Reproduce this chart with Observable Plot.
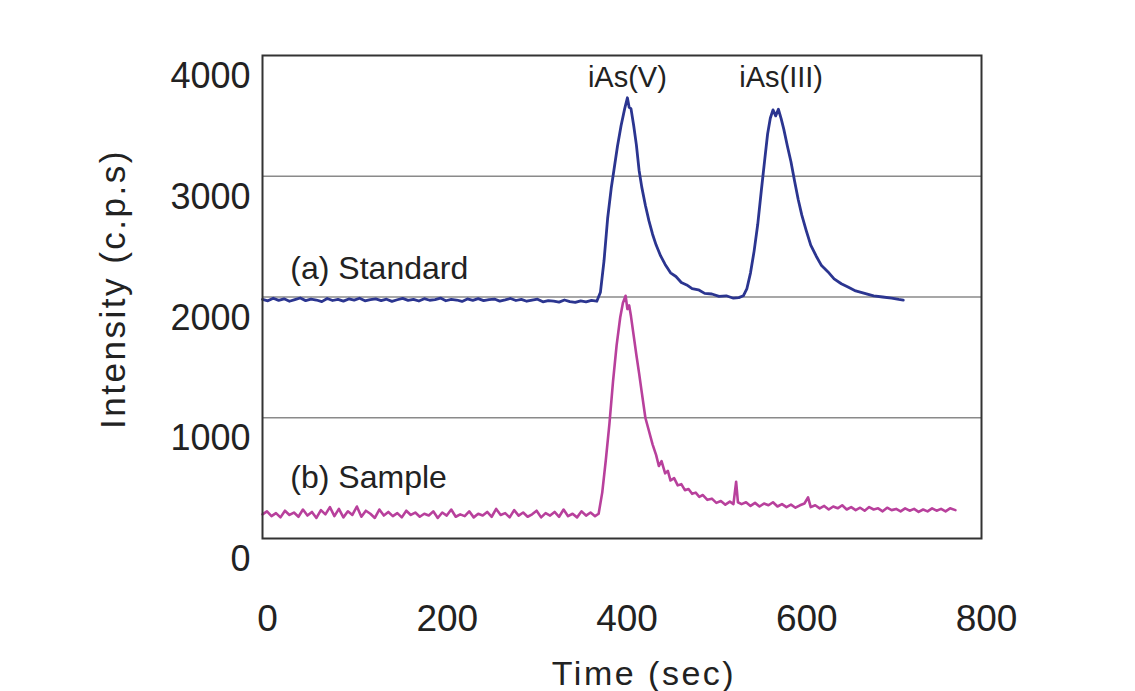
<!DOCTYPE html>
<html>
<head>
<meta charset="utf-8">
<script src="https://cdn.jsdelivr.net/npm/d3@7"></script>
<script src="https://cdn.jsdelivr.net/npm/@observablehq/plot@0.6"></script>
<style>
  html, body { margin: 0; padding: 0; background: #ffffff; }
  #chart { width: 1135px; height: 691px; }
</style>
</head>
<body>
<div id="chart"></div>
<script>
// ---- Data (time in sec, intensity in c.p.s) ----
const standardPoints = [
  [0,1980],[6,1968],[12,1990],[18,1972],[24,1985],[30,1965],[36,1978],[42,1992],[48,1970],[54,1983],
  [60,1975],[66,1962],[72,1988],[78,1971],[84,1980],[90,1966],[96,1984],[102,1974],[108,1990],[114,1968],
  [120,1979],[126,1985],[132,1970],[138,1982],[144,1964],[150,1977],[156,1989],[162,1972],[168,1981],[174,1967],
  [180,1986],[186,1973],[192,1978],[198,1991],[204,1969],[210,1980],[216,1975],[222,1963],[228,1984],[234,1972],
  [240,1987],[246,1970],[252,1979],[258,1983],[264,1966],[270,1976],[276,1988],[282,1971],[288,1980],[294,1965],
  [300,1974],[306,1982],[312,1960],[318,1970],[324,1966],[330,1958],[336,1975],[342,1962],[348,1955],[354,1968],
  [360,1960],[366,1972],[372,1965],
  [376,2040],[380,2300],[384,2650],[388,2900],[391,3050],[395,3250],[399,3420],[403,3560],[406,3650],[408,3570],
  [410,3560],[413,3420],[416,3260],[419,3050],[422,2910],[426,2760],[430,2630],[434,2520],[438,2430],[443,2340],
  [448,2270],[454,2200],[460,2170],[466,2120],[472,2100],[478,2070],[485,2060],[492,2030],[500,2025],[508,2005],
  [516,2010],[524,1990],[530,1995],[535,2010],[539,2070],[543,2200],[547,2380],[551,2600],[555,2880],[559,3150],
  [562,3350],[565,3480],[568,3550],[571,3500],[574,3555],[577,3480],[580,3390],[584,3250],[588,3120],[592,2960],
  [596,2810],[600,2680],[605,2550],[610,2430],[616,2340],[622,2260],[629,2210],[636,2150],[644,2110],[652,2080],
  [660,2050],[670,2030],[680,2010],[690,2000],[700,1990],[708,1980],[713,1975]
];

const samplePoints = [
  [0,200],[5,225],[10,185],[15,210],[20,175],[25,230],[30,195],[35,215],[40,180],[45,240],
  [50,190],[55,220],[60,170],[65,235],[70,200],[75,260],[80,185],[85,245],[90,175],[95,225],
  [100,195],[105,265],[110,180],[115,230],[120,205],[125,170],[130,240],[135,190],[140,220],[145,185],
  [150,210],[155,175],[160,230],[165,195],[170,215],[175,180],[180,205],[185,190],[190,225],[195,170],
  [200,215],[205,190],[210,240],[215,180],[220,200],[225,185],[230,225],[235,175],[240,205],[245,190],
  [250,220],[255,180],[260,245],[265,195],[270,210],[275,175],[280,235],[285,190],[290,215],[295,180],
  [300,200],[305,230],[310,175],[315,210],[320,190],[325,220],[330,180],[335,240],[340,185],[345,205],
  [350,175],[355,225],[360,190],[365,215],[370,185],[374,205],
  [378,380],[382,650],[386,950],[390,1300],[394,1600],[398,1830],[401,1950],[404,2010],[406,1900],[408,1930],
  [410,1840],[413,1680],[416,1520],[419,1370],[422,1210],[426,1000],[430,890],[434,780],[438,690],[441,600],
  [444,640],[448,540],[451,560],[454,480],[458,500],[462,440],[466,450],[470,400],[474,410],[478,370],
  [482,380],[486,345],[490,360],[495,320],[500,330],[505,295],[510,310],[515,280],[520,305],[524,285],
  [527,470],[529,300],[533,285],[538,300],[543,270],[548,295],[553,265],[558,290],[563,275],[568,300],
  [573,265],[578,285],[583,260],[588,280],[593,255],[598,275],[603,290],[607,340],[610,260],[615,275],
  [620,250],[625,270],[630,240],[635,265],[640,250],[645,275],[650,240],[655,260],[660,235],[665,255],
  [670,230],[675,260],[680,240],[685,250],[690,225],[695,255],[700,235],[705,245],[710,225],[715,250],
  [720,230],[725,245],[730,220],[735,240],[740,225],[745,250],[750,230],[755,245],[760,225],[765,250],
  [771,235]
];

const xTicks = [0, 200, 400, 600, 800];
const yTicks = [0, 1000, 2000, 3000, 4000];
const gridValues = [1000, 2000, 3000];

// Peak labels (centered) and trace labels (left-aligned), positioned in data units
const peakLabels = ["iAs(V)", "iAs(III)"];
const peakLabelTimes = [406, 577];
const peakLabelValues = [3815, 3815];

const traceLabels = ["(a) Standard", "(b) Sample"];
const traceLabelTimes = [31, 31];
const traceLabelValues = [2235, 505];

const xTitle = "Time (sec)";
const yTitle = "Intensity (c.p.s)";

// ---- Build tables ----
const standard = standardPoints.map(([t, v]) => ({t, v}));
const sample = samplePoints.map(([t, v]) => ({t, v}));
const peaks = peakLabels.map((label, i) => ({label, t: peakLabelTimes[i], v: peakLabelValues[i]}));
const traces = traceLabels.map((label, i) => ({label, t: traceLabelTimes[i], v: traceLabelValues[i]}));

const FONT = "'Liberation Sans', Arial, Helvetica, sans-serif";

const chart = Plot.plot({
  width: 1135,
  height: 691,
  marginLeft: 262,
  marginRight: 154,
  marginTop: 55,
  marginBottom: 153,
  style: {fontFamily: FONT, background: "#ffffff", color: "#222"},
  x: {domain: [0, 800]},
  y: {domain: [0, 4000]},
  marks: [
    Plot.ruleY(gridValues, {stroke: "#8a8a8a", strokeWidth: 1.4}),
    Plot.line(sample, {x: "t", y: "v", stroke: "#b8409c", strokeWidth: 2.6, strokeLinejoin: "round"}),
    Plot.line(standard, {x: "t", y: "v", stroke: "#2b3590", strokeWidth: 2.8, strokeLinejoin: "round"}),
    Plot.frame({stroke: "#333", strokeWidth: 2}),
    Plot.axisX(xTicks, {tickSize: 0, tickPadding: 66, fontSize: 37, dx: 5, label: null, fill: "#222", tickFormat: d3.format("d")}),
    Plot.axisY(yTicks, {tickSize: 0, tickPadding: 12, fontSize: 36, dy: 21, label: null, fill: "#222", tickFormat: d3.format("d")}),
    Plot.text(peaks, {x: "t", y: "v", text: "label", fontSize: 29, fill: "#222"}),
    Plot.text(traces, {x: "t", y: "v", text: "label", fontSize: 32, textAnchor: "start", fill: "#222"}),
    Plot.text([xTitle], {frameAnchor: "bottom", textAnchor: "middle", dy: 146, dx: 22, fontSize: 34, fill: "#222"}),
    Plot.text([yTitle], {frameAnchor: "left", textAnchor: "middle", rotate: -90, dx: -149, dy: -8, fontSize: 35, fill: "#222"})
  ]
});

// The reference's axis titles are set in a wider face: widen them with letter spacing
d3.select(chart).selectAll("text").each(function () {
  const s = this.textContent;
  if (s === xTitle) this.style.letterSpacing = "2.5px";
  if (s === yTitle) this.style.letterSpacing = "2.5px";
});

document.getElementById("chart").appendChild(chart);
</script>
</body>
</html>
